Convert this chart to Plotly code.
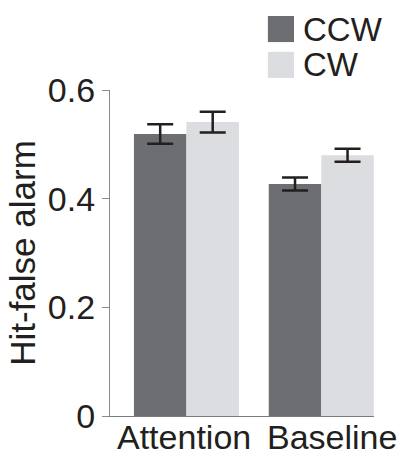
import plotly.graph_objects as go

categories = ["Attention", "Baseline"]
ccw_values = [0.519, 0.427]
ccw_errors = [0.018, 0.012]
cw_values = [0.541, 0.480]
cw_errors = [0.019, 0.012]
series_names = ["CCW", "CW"]
y_ticks = [0, 0.2, 0.4, 0.6]
y_tick_labels = ["0", "0.2", "0.4", "0.6"]
x_label_shift = [-2, 11]

dark = "#6d6e71"
light = "#dcdde0"
ink = "#231f20"
font_family = "Liberation Sans, Arial, Helvetica, sans-serif"

fig = go.Figure()
for name, vals, errs, col in [
    (series_names[0], ccw_values, ccw_errors, dark),
    (series_names[1], cw_values, cw_errors, light),
]:
    fig.add_trace(go.Bar(
        x=categories, y=vals, name=name, marker=dict(color=col, line=dict(width=0)),
        error_y=dict(type="data", array=errs, visible=True, color=ink, thickness=2.5, width=13),
        showlegend=False,
    ))

# legend drawn as squares + labels
leg_colors = [dark, light]
for i, (name, col) in enumerate(zip(series_names, leg_colors)):
    y0 = 1.227 - i * 0.110
    fig.add_shape(type="rect", xref="paper", yref="paper",
                  x0=0.598, x1=0.697, y0=y0 - 0.080, y1=y0,
                  fillcolor=col, line=dict(width=0))
    fig.add_annotation(xref="paper", yref="paper", x=0.722, y=y0 - 0.040,
                       text=name, showarrow=False, xanchor="left", yanchor="middle",
                       font=dict(size=33, color=ink, family=font_family))

# category labels under the axis
for cat, sh in zip(categories, x_label_shift):
    fig.add_annotation(xref="x", yref="paper", x=cat, y=0, text=cat, showarrow=False,
                       xanchor="center", yanchor="top", xshift=sh, yshift=0,
                       font=dict(size=34, color=ink, family=font_family))

fig.update_layout(
    width=400, height=456,
    margin=dict(l=110, r=26, t=90, b=40),
    paper_bgcolor="white", plot_bgcolor="white",
    barmode="group", bargap=0.221, bargroupgap=0,
    font=dict(family=font_family, color=ink, size=34),
)
fig.update_xaxes(
    type="category", range=[-0.567, 1.391],
    showline=True, linecolor="#7a7b7d", linewidth=1.3,
    ticks="", showgrid=False, zeroline=False, showticklabels=False,
)
fig.update_yaxes(
    range=[0, 0.6], tickvals=y_ticks, ticktext=y_tick_labels,
    showline=True, linecolor="#8a8b8d", linewidth=1.3,
    ticks="outside", ticklen=7, tickcolor="#8a8b8d", tickwidth=1.3,
    showgrid=False, zeroline=False,
    tickfont=dict(size=34, color=ink), ticklabelstandoff=0,
    title=dict(text="Hit-false alarm", font=dict(size=35, color=ink), standoff=1),
)

fig.write_html("out.html")
